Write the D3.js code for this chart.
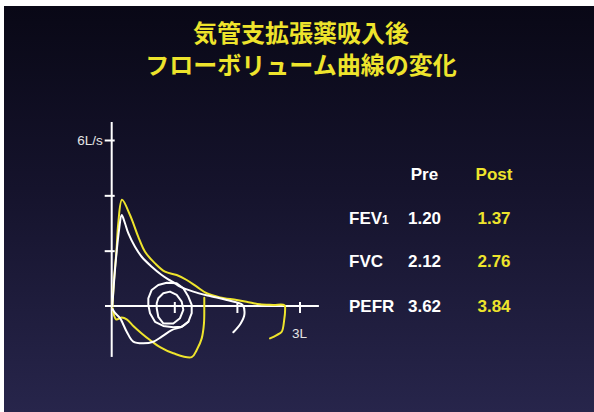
<!DOCTYPE html>
<html>
<head>
<meta charset="utf-8">
<script src="https://cdn.jsdelivr.net/npm/d3@7"></script>
<style>
  html, body { margin: 0; padding: 0; background: #ffffff; }
  svg { display: block; }
</style>
</head>
<body>
<svg id="chart" width="594" height="412"></svg>
<script>
// ---- data ----
const titleLines = ["気管支拡張薬吸入後", "フローボリューム曲線の変化"];

const yTicks = [2, 4, 6];          // flow, L/s
const xTicks = [1, 2, 3];          // volume, L
const yTickLabel = "6L/s";
const xTickLabel = "3L";

const rowLabels = ["FEV", "FVC", "PEFR"];
const rowSubs = ["1", "", ""];
const preValues = [1.20, 2.12, 3.62];
const postValues = [1.37, 2.76, 3.84];
const columnHeads = ["Pre", "Post"];

// flow-volume traces: [volume L, flow L/s]
const preExpiratory = [
  [0.01, 0.0], [0.06, 1.5], [0.12, 2.8], [0.16, 3.29],
  [0.212, 2.99], [0.265, 2.63], [0.372, 2.14], [0.479, 1.78],
  [0.639, 1.42], [0.799, 1.12], [0.904, 0.96], [1.011, 0.82],
  [1.091, 0.70], [1.304, 0.52], [1.570, 0.36], [1.837, 0.22],
  [1.997, 0.13], [2.09, 0.04], [2.12, -0.30], [2.06, -0.63], [1.943, -0.95]
];
const preInspiratory = [
  [0.013, -0.11], [0.053, -0.25], [0.133, -0.44], [0.24, -0.93],
  [0.345, -1.29], [0.505, -1.35], [0.665, -1.29], [0.799, -1.11],
  [0.958, -0.87], [1.118, -0.75], [1.224, -0.57]
];
const tidalOuter = [
  [0.585, 0.28], [0.639, 0.58], [0.744, 0.76], [0.879, 0.84],
  [1.038, 0.82], [1.144, 0.64], [1.224, 0.34], [1.278, 0.04],
  [1.278, -0.26], [1.224, -0.57], [1.118, -0.75], [0.984, -0.77],
  [0.824, -0.72], [0.692, -0.57], [0.612, -0.26], [0.585, 0.04]
];
const tidalInner = [
  [0.719, 0.10], [0.744, 0.28], [0.824, 0.46], [0.931, 0.52],
  [1.038, 0.40], [1.118, 0.16], [1.144, -0.14], [1.091, -0.44],
  [0.984, -0.63], [0.824, -0.63], [0.744, -0.39], [0.719, -0.08]
];
const postExpiratory = [
  [0.013, 0.0], [0.037, 0.94], [0.077, 2.02], [0.105, 2.99], [0.165, 3.84],
  [0.292, 3.29], [0.345, 2.99], [0.425, 2.50], [0.532, 1.96],
  [0.692, 1.54], [0.851, 1.24], [1.038, 1.12], [1.198, 0.94],
  [1.358, 0.70], [1.518, 0.46], [1.730, 0.31], [1.997, 0.22],
  [2.209, 0.13], [2.369, 0.06], [2.581, 0.04], [2.76, 0.03],
  [2.77, -0.14], [2.755, -0.51], [2.716, -0.93], [2.636, -1.05], [2.529, -1.17]
];
const postInspiratory = [
  [0.016, -0.08], [0.069, -0.48], [0.160, -0.42], [0.240, -0.48],
  [0.345, -0.72], [0.479, -0.99], [0.612, -1.23], [0.772, -1.49],
  [0.984, -1.71], [1.278, -1.85], [1.358, -1.59], [1.438, -1.17],
  [1.474, -0.63], [1.479, -0.03], [1.479, 0.30]
];

// ---- layout ----
const W = 594, H = 412;
const yellow = "#eee42c";
const svg = d3.select("#chart");

const defs = svg.append("defs");
const grad = defs.append("linearGradient")
  .attr("id", "bg").attr("x1", 0).attr("y1", 0).attr("x2", 0).attr("y2", 1);
grad.append("stop").attr("offset", "0%").attr("stop-color", "#090816");
grad.append("stop").attr("offset", "45%").attr("stop-color", "#15132c");
grad.append("stop").attr("offset", "100%").attr("stop-color", "#27254b");

svg.append("rect").attr("x", 0).attr("y", 0).attr("width", W).attr("height", H).attr("fill", "#ffffff");
svg.append("rect").attr("x", 4).attr("y", 6).attr("width", W - 4).attr("height", H - 6).attr("fill", "url(#bg)");

// title
svg.append("g").selectAll("text").data(titleLines).join("text")
  .attr("x", 301)
  .attr("y", (d, i) => 31 + i * 32)
  .attr("text-anchor", "middle")
  .attr("dominant-baseline", "central")
  .attr("font-family", "'Noto Sans CJK JP', 'Noto Sans CJK SC', sans-serif")
  .attr("font-weight", 700)
  .attr("font-size", 24)
  .attr("fill", yellow)
  .text(d => d);

// scales
const x = d3.scaleLinear().domain([0, 3]).range([111.7, 299.5]);
const y = d3.scaleLinear().domain([0, 6]).range([306, 140]);

const axisG = svg.append("g");
const axisStroke = "#ffffff";

// axis lines
axisG.append("line")
  .attr("x1", x(0)).attr("x2", x(0))
  .attr("y1", y(6.65)).attr("y2", y(-1.84))
  .attr("stroke", axisStroke).attr("stroke-width", 2);
axisG.append("line")
  .attr("x1", x(-0.107)).attr("x2", x(3.31))
  .attr("y1", y(0)).attr("y2", y(0))
  .attr("stroke", axisStroke).attr("stroke-width", 2);

// tick marks via d3 axes
const yAxis = d3.axisLeft(y).tickValues(yTicks).tickSize(7).tickFormat("");
const yAx = axisG.append("g").attr("transform", `translate(${x(0)},0)`).call(yAxis);
yAx.select(".domain").remove();
yAx.selectAll(".tick line").attr("x1", 3).attr("stroke", axisStroke).attr("stroke-width", 2);

const xAxis = d3.axisBottom(x).tickValues(xTicks).tickSize(7).tickFormat("");
const xAx = axisG.append("g").attr("transform", `translate(0,${y(0)})`).call(xAxis);
xAx.select(".domain").remove();
xAx.selectAll(".tick line").attr("y1", -4).attr("stroke", axisStroke).attr("stroke-width", 2);

// axis labels
axisG.append("text")
  .attr("x", x(0) - 9).attr("y", y(6))
  .attr("text-anchor", "end").attr("dominant-baseline", "central")
  .attr("font-family", "'Liberation Sans', Arial, sans-serif")
  .attr("font-size", 13.5).attr("fill", "#e4e4e4")
  .text(yTickLabel);
axisG.append("text")
  .attr("x", x(3) - 7.5).attr("y", y(0) + 27)
  .attr("dominant-baseline", "central")
  .attr("font-family", "'Liberation Sans', Arial, sans-serif")
  .attr("font-size", 13.5).attr("fill", "#e4e4e4")
  .text(xTickLabel);

// traces: smooth forced-breath curves, polygonal tidal loops
const line = d3.line().x(d => x(d[0])).y(d => y(d[1])).curve(d3.curveCatmullRom.alpha(0.5));
const loop = d3.line().x(d => x(d[0])).y(d => y(d[1])).curve(d3.curveLinearClosed);

const traces = svg.append("g").attr("fill", "none")
  .attr("stroke-width", 2).attr("stroke-linejoin", "round").attr("stroke-linecap", "round");

traces.append("path").attr("d", line(postExpiratory)).attr("stroke", yellow);
traces.append("path").attr("d", line(postInspiratory)).attr("stroke", yellow);
traces.append("path").attr("d", line(preExpiratory)).attr("stroke", "#ffffff");
traces.append("path").attr("d", line(preInspiratory)).attr("stroke", "#ffffff");
traces.append("path").attr("d", loop(tidalOuter)).attr("stroke", "#ffffff");
traces.append("path").attr("d", loop(tidalInner)).attr("stroke", "#ffffff");

// results table
const table = svg.append("g")
  .attr("font-family", "'Liberation Sans', Arial, sans-serif")
  .attr("font-weight", 700)
  .attr("font-size", 17);

const colX = [424.5, 494];
const headY = 180;
const rowY = [224, 267, 312];

table.selectAll("text.head").data(columnHeads).join("text")
  .attr("class", "head")
  .attr("x", (d, i) => colX[i]).attr("y", headY)
  .attr("text-anchor", "middle")
  .attr("fill", (d, i) => i === 0 ? "#ffffff" : yellow)
  .text(d => d);

const labels = table.selectAll("text.label").data(rowLabels).join("text")
  .attr("class", "label")
  .attr("x", 349).attr("y", (d, i) => rowY[i])
  .attr("fill", "#ffffff");
labels.append("tspan").text(d => d);
labels.append("tspan").attr("font-size", 12).text((d, i) => rowSubs[i]);

table.selectAll("text.pre").data(preValues).join("text")
  .attr("class", "pre")
  .attr("x", colX[0]).attr("y", (d, i) => rowY[i])
  .attr("text-anchor", "middle").attr("fill", "#ffffff")
  .text(d => d.toFixed(2));

table.selectAll("text.post").data(postValues).join("text")
  .attr("class", "post")
  .attr("x", colX[1]).attr("y", (d, i) => rowY[i])
  .attr("text-anchor", "middle").attr("fill", yellow)
  .text(d => d.toFixed(2));
</script>
</body>
</html>
